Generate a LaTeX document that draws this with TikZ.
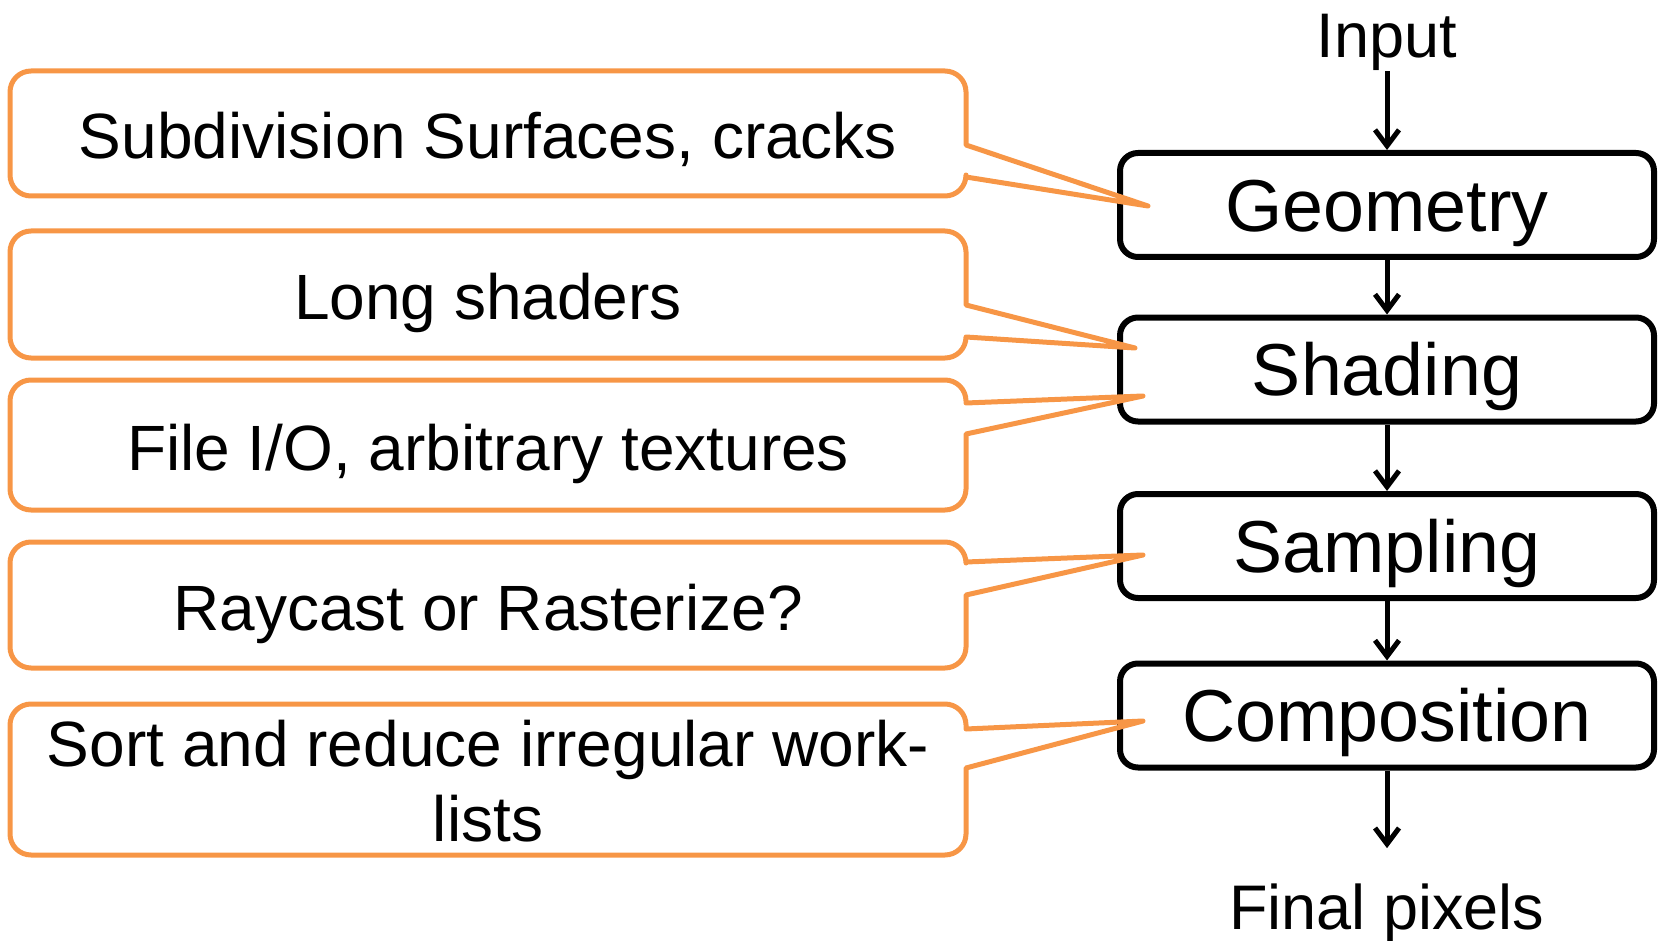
\documentclass[tikz,border=0pt]{standalone}
\usepackage{fontspec}
\setmainfont{Liberation Sans}
\usetikzlibrary{arrows.meta,calc}
\definecolor{calloutorange}{RGB}{247,150,70}

% rounded box with a pointer on its right side:
% #1 x0, #2 y0, #3 x1, #4 y1, #5 upper base, #6 lower base, #7 tip coordinate
\newcommand\calloutshape[7]{%
  \draw[callout]
    ({#1+21},#2) -- ({#3-21},#2)
    .. controls ({#3-9.4},#2) and (#3,{#2+9.4}) .. (#3,{#2+21})
    -- (#3,#5) -- (#7) -- (#3,#6)
    -- (#3,{#4-21})
    .. controls (#3,{#4-9.4}) and ({#3-9.4},#4) .. ({#3-21},#4)
    -- ({#1+21},#4)
    .. controls ({#1+9.4},#4) and (#1,{#4-9.4}) .. (#1,{#4-21})
    -- (#1,{#2+21})
    .. controls (#1,{#2+9.4}) and ({#1+9.4},#2) .. ({#1+21},#2) -- cycle;}

\begin{document}
\begin{tikzpicture}[x=1pt,y=-1pt,
  stage/.style={draw=black,line width=6pt,rounded corners=18pt,
    minimum width=534pt,minimum height=104pt,inner sep=0pt,
    font=\fontsize{73.6}{88}\selectfont,text height=52.7pt,text depth=0pt},
  ctext/.style={font=\fontsize{64}{75}\selectfont,inner sep=0pt,
    text height=45.8pt,text depth=0pt},
  ctexttwo/.style={font=\fontsize{64}{75}\selectfont,inner sep=0pt,align=center},
  iolabel/.style={font=\fontsize{63}{75}\selectfont,inner sep=0pt,anchor=base},
  arr/.style={line width=5pt,-{Straight Barb[length=16pt,width=24pt]}},
  callout/.style={draw=calloutorange,line width=5pt,line join=round}]

\useasboundingbox (0,0) rectangle (1659,941);

% pipeline stages
\node[stage] (geo) at (1387,205) {Geometry};
\node[stage] (shd) at (1387,369.5) {Shading};
\node[stage] (smp) at (1387,546) {Sampling};
\node[stage] (cmp) at (1387,715.5) {Composition};

\node[iolabel] (in) at (1387,58) {Input};
\node[iolabel] (fin) at (1387,929) {Final pixels};

\draw[arr] (in.south) -- (geo.north);
\draw[arr] (geo.south) -- (shd.north);
\draw[arr] (shd.south) -- (smp.north);
\draw[arr] (smp.south) -- (cmp.north);
\draw[arr] (cmp.south) -- ([yshift=35pt]fin.north);

% pointer tips
\coordinate (t1) at ($(geo.center)+(-239,1)$);
\coordinate (t2) at ($(shd.center)+(-252,-21.5)$);
\coordinate (t3) at ($(shd.center)+(-244,26.5)$);
\coordinate (t4) at ($(smp.center)+(-244,9)$);
\coordinate (t5) at ($(cmp.center)+(-244,5.5)$);

% callouts
\calloutshape{10}{71}{966}{196}{145}{177}{t1}
\calloutshape{10}{231}{966}{358}{305}{337}{t2}
\calloutshape{10}{380}{966}{510}{403}{434}{t3}
\calloutshape{10}{542}{966}{668}{562}{595}{t4}
\calloutshape{10}{704}{966}{855}{729}{768}{t5}

\node[ctext] (c1) at (488,135.5) {Subdivision Surfaces, cracks};
\node[ctext] (c2) at (488,297) {Long shaders};
\node[ctext] (c3) at (488,447.5) {File I/O, arbitrary textures};
\node[ctext] (c4) at (488,607.5) {Raycast or Rasterize?};
\node[ctexttwo] (c5) at (488,781) {Sort and reduce irregular work-\\lists};
\end{tikzpicture}
\end{document}
